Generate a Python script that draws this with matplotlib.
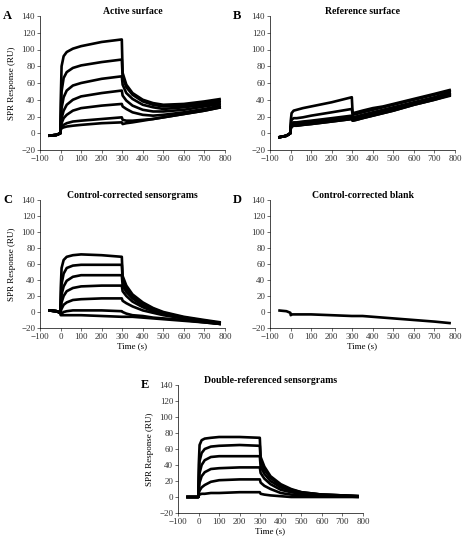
import numpy as np
import matplotlib.pyplot as plt

plt.rcParams["font.family"] = ["Liberation Serif", "DejaVu Serif"]
plt.rcParams["font.size"] = 6.5

# shared time knots (s)
t = [-60, -20, -1, 1, 5, 15, 30, 60, 100, 200, 298, 302, 320, 350, 400, 450, 500, 600, 700, 780]

# A: active surface
active = [
    [-3, -2, 0, 40, 80, 92, 97, 101, 104, 109, 112, 72, 58, 48, 40, 36, 34, 35, 38, 41],
    [-3, -2, 0, 20, 50, 66, 73, 78, 81, 85, 88, 67, 55, 46, 38, 34, 32, 33, 36, 39],
    [-3, -2, 0, 12, 30, 43, 51, 57, 60, 65, 68, 58, 48, 41, 34, 31, 29, 31, 34, 37],
    [-3, -2, 0, 8, 18, 27, 34, 40, 44, 48, 51, 45, 39, 33, 28, 26, 26, 28, 32, 35],
    [-3, -2, 0, 6, 12, 18, 22, 27, 30, 33, 35, 32, 29, 25, 22, 21, 22, 25, 29, 33],
    [-3, -2, 0, 5, 8, 10, 12, 14, 15, 17, 19, 16, 15, 15, 16, 17, 19, 23, 27, 31],
    [-3, -2, 0, 4, 6, 7, 8, 9, 10, 12, 13, 11, 12, 13, 15, 17, 19, 23, 27, 31],
]
# B: reference surface
reference = [
    [-5, -3, 0, 15, 24, 27, 28, 30, 32, 37, 43, 24, 25, 27, 30, 32, 35, 41, 47, 52],
    [-5, -3, 0, 10, 16, 18, 18, 19, 21, 25, 29, 22, 23, 25, 28, 31, 34, 40, 46, 51],
    [-5, -3, 0, 8, 12, 13, 13, 14, 15, 18, 21, 19, 20, 22, 25, 28, 31, 37, 43, 49],
    [-5, -3, 0, 7, 10, 11, 11, 12, 13, 16, 19, 17, 18, 20, 23, 26, 29, 36, 42, 48],
    [-5, -3, 0, 6, 9, 10, 10, 11, 12, 15, 18, 16, 17, 19, 22, 25, 28, 35, 41, 47],
    [-5, -3, 0, 6, 8, 9, 9, 10, 11, 14, 17, 15, 16, 18, 21, 24, 27, 34, 40, 46],
    [-5, -3, 0, 5, 8, 9, 9, 10, 11, 14, 17, 15, 16, 18, 21, 24, 27, 34, 40, 45],
]
# C: control-corrected sensorgrams
corrected = [
    [2, 1, -1, 30, 55, 65, 69, 71, 72, 71, 69, 45, 33, 22, 12, 5, 0, -6, -10, -13],
    [2, 1, -1, 15, 35, 48, 55, 58, 59, 59, 59, 40, 29, 20, 10, 4, -1, -7, -11, -14],
    [2, 1, -1, 8, 22, 32, 39, 44, 46, 46, 46, 33, 25, 17, 8, 2, -2, -7, -11, -14],
    [2, 1, -1, 4, 12, 20, 26, 30, 32, 33, 33, 26, 20, 13, 6, 1, -3, -8, -12, -15],
    [2, 1, -1, 1, 4, 9, 12, 15, 16, 17, 17, 14, 11, 7, 2, -1, -4, -8, -12, -15],
    [2, 1, -1, -3, -2, 0, 1, 2, 2, 2, 1, 0, -2, -4, -5, -7, -8, -10, -13, -15],
    [2, 1, -1, -4, -4, -4, -4, -4, -4, -5, -6, -6, -6, -6, -7, -8, -9, -11, -13, -15],
]
# D: control-corrected blank
blank = [2, 1, -1, -4, -3, -3, -3, -3, -3, -4, -5, -5, -5, -5, -6, -7, -8, -10, -12, -14]
# E: double-referenced sensorgrams
double = [
    [0, 0, 0, 40, 65, 71, 73, 74, 75, 75, 74, 50, 38, 26, 16, 10, 6, 3, 2, 1],
    [0, 0, 0, 25, 45, 55, 60, 63, 64, 65, 64, 45, 34, 24, 14, 9, 6, 3, 2, 1],
    [0, 0, 0, 14, 30, 40, 46, 50, 51, 51, 51, 38, 29, 20, 12, 8, 5, 3, 2, 1],
    [0, 0, 0, 8, 18, 26, 31, 35, 36, 37, 37, 30, 23, 16, 9, 6, 4, 2, 1, 1],
    [0, 0, 0, 4, 8, 12, 15, 19, 21, 22, 22, 18, 14, 10, 5, 3, 2, 1, 1, 0],
    [0, 0, 0, 2, 3, 4, 4, 5, 5, 6, 6, 4, 3, 2, 1, 0, 0, 0, 0, 0],
]

fig = plt.figure(figsize=(4.74, 5.51), dpi=100)
W, H = 474, 551
boxes = {
    "A": (40, 16, 185, 134), "B": (270, 16, 185, 134),
    "C": (40, 200, 185, 128), "D": (270, 200, 185, 128),
    "E": (178, 385, 185, 128),
}
titles = {"A": "Active surface", "B": "Reference surface", "C": "Control-corrected sensorgrams",
          "D": "Control-corrected blank", "E": "Double-referenced sensorgrams"}
series = {"A": active, "B": reference, "C": corrected, "D": [blank], "E": double}

for key, (x, y, w, h) in boxes.items():
    ax = fig.add_axes([x / W, 1 - (y + h) / H, w / W, h / H])
    for ys in series[key]:
        ax.plot(t, ys, color="black", lw=1.9, solid_capstyle="butt")
    ax.set_xlim(-100, 800)
    ax.set_ylim(-20, 140)
    ax.set_xticks(np.arange(-100, 801, 100))
    ax.set_yticks(np.arange(-20, 141, 20))
    ax.spines["top"].set_visible(False)
    ax.spines["right"].set_visible(False)
    ax.spines["left"].set_linewidth(0.5)
    ax.spines["bottom"].set_linewidth(0.5)
    ax.tick_params(length=2, width=0.5, pad=1.5, labelsize=6.5, colors="#333333")
    ax.set_title(titles[key], fontsize=7, fontweight="bold", pad=1)
    if key in ("A", "C", "E"):
        ax.set_ylabel("SPR Response (RU)", fontsize=6.5)
    if key in ("C", "D", "E"):
        ax.set_xlabel("Time (s)", fontsize=6.5, labelpad=1)
    fig.text((x - 37) / W, 1 - (y - 6) / H, key, fontsize=9, fontweight="bold", va="top")

fig.savefig("out.png", dpi=100)
